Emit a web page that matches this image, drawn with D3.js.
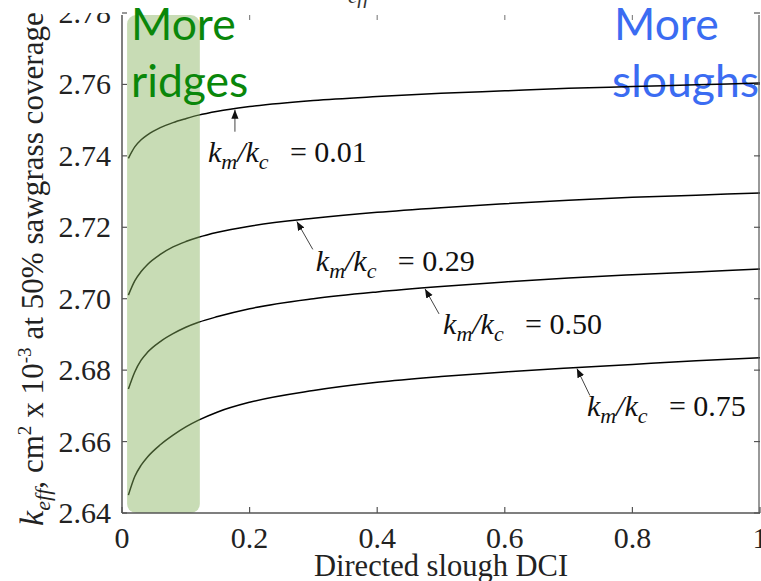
<!DOCTYPE html>
<html>
<head>
<meta charset="utf-8">
<script src="https://cdn.jsdelivr.net/npm/d3@7"></script>
<style>
html,body{margin:0;padding:0;background:#fff;}
svg{display:block;}
</style>
</head>
<body>
<svg id="chart" width="761" height="581"></svg>
<script>
// ---- data ----
const dci = [0.01,0.02,0.03,0.04,0.06,0.08,0.10,0.12,0.15,0.20,0.30,0.40,0.50,0.60,0.70,0.80,0.90,1.00];
const ratioLabels = ["0.01","0.29","0.50","0.75"];
const keff001 = [2.7393,2.7425,2.7445,2.7459,2.7479,2.7493,2.7504,2.7514,2.7525,2.7538,2.7555,2.7566,2.7575,2.7582,2.7589,2.7594,2.7599,2.7604];
const keff029 = [2.7010,2.7050,2.7076,2.7096,2.7124,2.7145,2.7160,2.7172,2.7186,2.7203,2.7225,2.7242,2.7255,2.7266,2.7276,2.7284,2.7290,2.7296];
const keff050 = [2.6747,2.6795,2.6828,2.6850,2.6880,2.6902,2.6920,2.6934,2.6950,2.6972,2.7000,2.7019,2.7034,2.7047,2.7058,2.7067,2.7075,2.7083];
const keff075 = [2.6450,2.6502,2.6534,2.6557,2.6591,2.6618,2.6641,2.6660,2.6683,2.6710,2.6743,2.6766,2.6782,2.6795,2.6806,2.6816,2.6826,2.6835];
const xTicks = [0,0.2,0.4,0.6,0.8,1];
const xTickLabels = ["0","0.2","0.4","0.6","0.8","1"];
const yTicks = [2.64,2.66,2.68,2.70,2.72,2.74,2.76,2.78];
const yTickLabels = ["2.64","2.66","2.68","2.70","2.72","2.74","2.76","2.78"];
const ridgeBand = [0.008, 0.122];          // highlighted DCI range
const arrowDCI = [0.177, 0.274, 0.475, 0.713]; // where annotation arrows touch curves

const series = [keff001, keff029, keff050, keff075];

// ---- layout ----
const svg = d3.select("#chart");
const x = d3.scaleLinear().domain([0,1]).range([122,760]);
const y = d3.scaleLinear().domain([2.64,2.78]).range([513,13]);
const serif = "'Liberation Serif','Times New Roman',serif";
const sans = "Lato,'Open Sans',sans-serif";

// blue text (under curves)
const blue = "#3b6cf2";
svg.append("text").attr("x",614).attr("y",40).attr("font-family",sans).attr("font-size",44.5)
  .attr("fill",blue).text("More");
svg.append("text").attr("x",612).attr("y",97).attr("font-family",sans).attr("font-size",44.5)
  .attr("fill",blue).text("sloughs");

// curves
const line = d3.line().x((d,i)=>x(dci[i])).y(d=>y(d)).curve(d3.curveMonotoneX);
svg.append("g").selectAll("path").data(series).join("path")
  .attr("d", d=>line(d)).attr("fill","none").attr("stroke","#000").attr("stroke-width",1.5);

// band (semi-transparent on top of curves)
svg.append("rect").attr("x",x(ridgeBand[0])).attr("width",x(ridgeBand[1])-x(ridgeBand[0]))
  .attr("y",15).attr("height",513-15).attr("rx",9).attr("ry",9)
  .attr("fill","#86b25a").attr("opacity",0.45);

// axes
const axisColor = "#555";
const ax = svg.append("g");
ax.append("line").attr("x1",x(0)).attr("x2",x(1)).attr("y1",513).attr("y2",513).attr("stroke",axisColor).attr("stroke-width",1.5);
ax.append("line").attr("x1",x(0)).attr("x2",x(0)).attr("y1",15).attr("y2",513).attr("stroke",axisColor).attr("stroke-width",1.5);
ax.append("line").attr("x1",x(1)-1).attr("x2",x(1)-1).attr("y1",15).attr("y2",513).attr("stroke",axisColor).attr("stroke-width",1.2);
// ticks (inward)
ax.selectAll(".xt").data(xTicks).join("line").attr("x1",d=>x(d)).attr("x2",d=>x(d))
  .attr("y1",513).attr("y2",507).attr("stroke",axisColor).attr("stroke-width",1.2);
ax.selectAll(".xtt").data(xTicks.slice(1,5)).join("line").attr("x1",d=>x(d)).attr("x2",d=>x(d))
  .attr("y1",15).attr("y2",20).attr("stroke","#888").attr("stroke-width",1.2);
ax.selectAll(".yt").data(yTicks).join("line").attr("x1",x(0)).attr("x2",x(0)+5)
  .attr("y1",d=>y(d)).attr("y2",d=>y(d)).attr("stroke",axisColor).attr("stroke-width",1.2);
ax.selectAll(".ytr").data(yTicks).join("line").attr("x1",x(1)-6).attr("x2",x(1))
  .attr("y1",d=>y(d)).attr("y2",d=>y(d)).attr("stroke",axisColor).attr("stroke-width",1.2);

// tick labels
svg.append("g").selectAll("text").data(xTicks).join("text")
  .attr("x",d=>x(d)).attr("y",548).attr("text-anchor","middle")
  .attr("font-family",serif).attr("font-size",30).attr("fill","#222")
  .text((d,i)=>xTickLabels[i]);
svg.append("g").selectAll("text").data(yTicks).join("text")
  .attr("x",111).attr("y",d=>y(d)+10).attr("text-anchor","end")
  .attr("font-family",serif).attr("font-size",30).attr("fill","#222")
  .text((d,i)=>yTickLabels[i]);

// white mask at the top-left (cropped region)
svg.append("rect").attr("x",0).attr("y",0).attr("width",121).attr("height",13).attr("fill","#fff");

// x axis label
svg.append("text").attr("x",441).attr("y",576).attr("text-anchor","middle")
  .attr("font-family",serif).attr("font-size",30.5).attr("fill","#222").text("Directed slough DCI");

// y axis label
const yl = svg.append("text").attr("transform","translate(43,526) rotate(-90)")
  .attr("font-family",serif).attr("font-size",31).attr("letter-spacing",0.05).attr("fill","#222");
yl.append("tspan").attr("font-style","italic").attr("font-size",34).text("k");
yl.append("tspan").attr("font-style","italic").attr("font-size",22).attr("dy",7).text("eff");
yl.append("tspan").attr("dy",-7).text(", cm");
yl.append("tspan").attr("font-size",19).attr("dy",-12).text("2");
yl.append("tspan").attr("dy",12).text(" x 10");
yl.append("tspan").attr("font-size",19).attr("dy",-12).text("-3");
yl.append("tspan").attr("dy",12).text(" at 50% sawgrass coverage");

// title fragment at top
svg.append("text").attr("x",348).attr("y",3).attr("font-family",serif).attr("font-style","italic")
  .attr("font-size",21).attr("fill","#333").text("eff");

// green text (on top of band)
const green = "#0a870a";
svg.append("text").attr("x",131).attr("y",40).attr("font-family",sans).attr("font-size",44.5)
  .attr("fill",green).text("More");
svg.append("text").attr("x",131).attr("y",97).attr("font-family",sans).attr("font-size",44.5)
  .attr("fill",green).text("ridges");

// annotations
function interp(arr, v){
  const i = d3.bisectLeft(dci, v);
  const t = (v - dci[i-1])/(dci[i]-dci[i-1]);
  return arr[i-1] + t*(arr[i]-arr[i-1]);
}
const labelOffsets = [[0,22,-27,52],[16,28,19,50],[14,25,18,45],[13,27,10,47]]; // [tail dx, tail dy, label dx, label dy] in px
svg.append("defs").append("marker").attr("id","ah").attr("viewBox","0 0 10 10")
  .attr("refX",10).attr("refY",5).attr("markerWidth",9).attr("markerHeight",9)
  .attr("markerUnits","userSpaceOnUse").attr("orient","auto")
  .append("path").attr("d","M0,1 L10,5 L0,9 Z").attr("fill","#111");
arrowDCI.forEach((d,i)=>{
  const tx = x(d), ty = y(interp(series[i], d)) + 1;
  const o = labelOffsets[i];
  svg.append("line").attr("x1",tx+o[0]).attr("y1",ty+o[1]).attr("x2",tx).attr("y2",ty)
    .attr("stroke","#444").attr("stroke-width",1).attr("marker-end","url(#ah)");
  const lx = tx + o[2], ly = ty + o[3];
  const t = svg.append("text").attr("x",lx).attr("y",ly).attr("font-family",serif)
    .attr("font-size",30).attr("fill","#111");
  t.append("tspan").attr("font-style","italic").text("k");
  t.append("tspan").attr("font-style","italic").attr("font-size",22).attr("dy",7).text("m");
  t.append("tspan").attr("font-style","italic").attr("dy",-7).text("/k");
  t.append("tspan").attr("font-style","italic").attr("font-size",22).attr("dy",7).text("c");
  svg.append("text").attr("x",lx+82).attr("y",ly).attr("font-family",serif)
    .attr("font-size",30).attr("fill","#111").text("= " + ratioLabels[i]);
});
</script>
</body>
</html>
